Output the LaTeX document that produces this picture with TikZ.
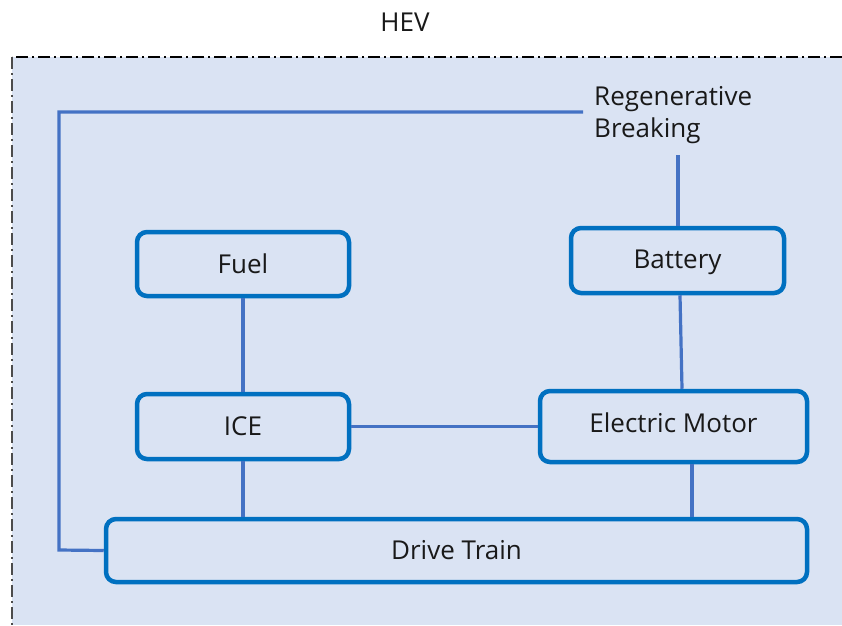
\documentclass[tikz,border=0pt]{standalone}
\usepackage{fontspec}
\setmainfont{Open Sans}
\definecolor{bgfill}{HTML}{DAE3F3}
\definecolor{boxblue}{HTML}{0070C0}
\definecolor{lineblue}{HTML}{4472C4}
\begin{document}
\begin{tikzpicture}[x=1pt,y=-1pt,
  blk/.style={draw=boxblue,line width=4.5pt,rounded corners=10pt,inner sep=0pt},
  conn/.style={draw=lineblue,line width=3.2pt},
  lbl/.style={font=\fontsize{26}{32}\selectfont,text=black!90}]
\useasboundingbox (0,0) rectangle (842,625);
\fill[bgfill] (12,57) rectangle (842,625);
\draw[black,line width=1.6pt,dash pattern=on 12pt off 4pt on 2pt off 4pt] (842,57) -- (12,57);
\draw[black!70,line width=1.6pt,dash pattern=on 12pt off 4pt on 2pt off 4pt] (12,57) -- (12,625);
\node[lbl] (hev) at (405,22) {HEV};
\node[blk,minimum width=212pt,minimum height=64pt] (fuel) at (243,264) {};
\node[lbl] at (fuel.center) {Fuel};
\node[blk,minimum width=213pt,minimum height=65pt] (bat) at (677.5,260.5) {};
\node[lbl] at ([yshift=-2pt]bat.center) {Battery};
\node[blk,minimum width=212pt,minimum height=65pt] (ice) at (243,426.5) {};
\node[lbl] at (ice.center) {ICE};
\node[blk,minimum width=267pt,minimum height=71pt] (em) at (673.5,426.5) {};
\node[lbl] at ([yshift=4pt]em.center) {Electric Motor};
\node[blk,minimum width=701pt,minimum height=63pt] (dt) at (456.5,550.5) {};
\node[lbl] at (dt.center) {Drive Train};
\node[lbl,align=left,anchor=north west,inner sep=0pt] (regen) at (594,86) {Regenerative\\Breaking};
\coordinate (rb) at (678,155);
\coordinate (rl) at (583,112);
\coordinate (c1) at (59,112);
\coordinate (c2) at (59,550);
\draw[conn] (fuel.south) -- (ice.north);
\draw[conn] (bat.south -| 680,0) -- (em.north -| 682,0);
\draw[conn] (ice.east) -- (em.west);
\draw[conn] (ice.south) -- (dt.north -| ice.south);
\draw[conn] (em.south -| 692,0) -- (dt.north -| 692,0);
\draw[conn] (rb) -- (bat.north -| rb);
\draw[conn] (rl) -- (c1) -- (c2) -- (dt.west);
\end{tikzpicture}
\end{document}
